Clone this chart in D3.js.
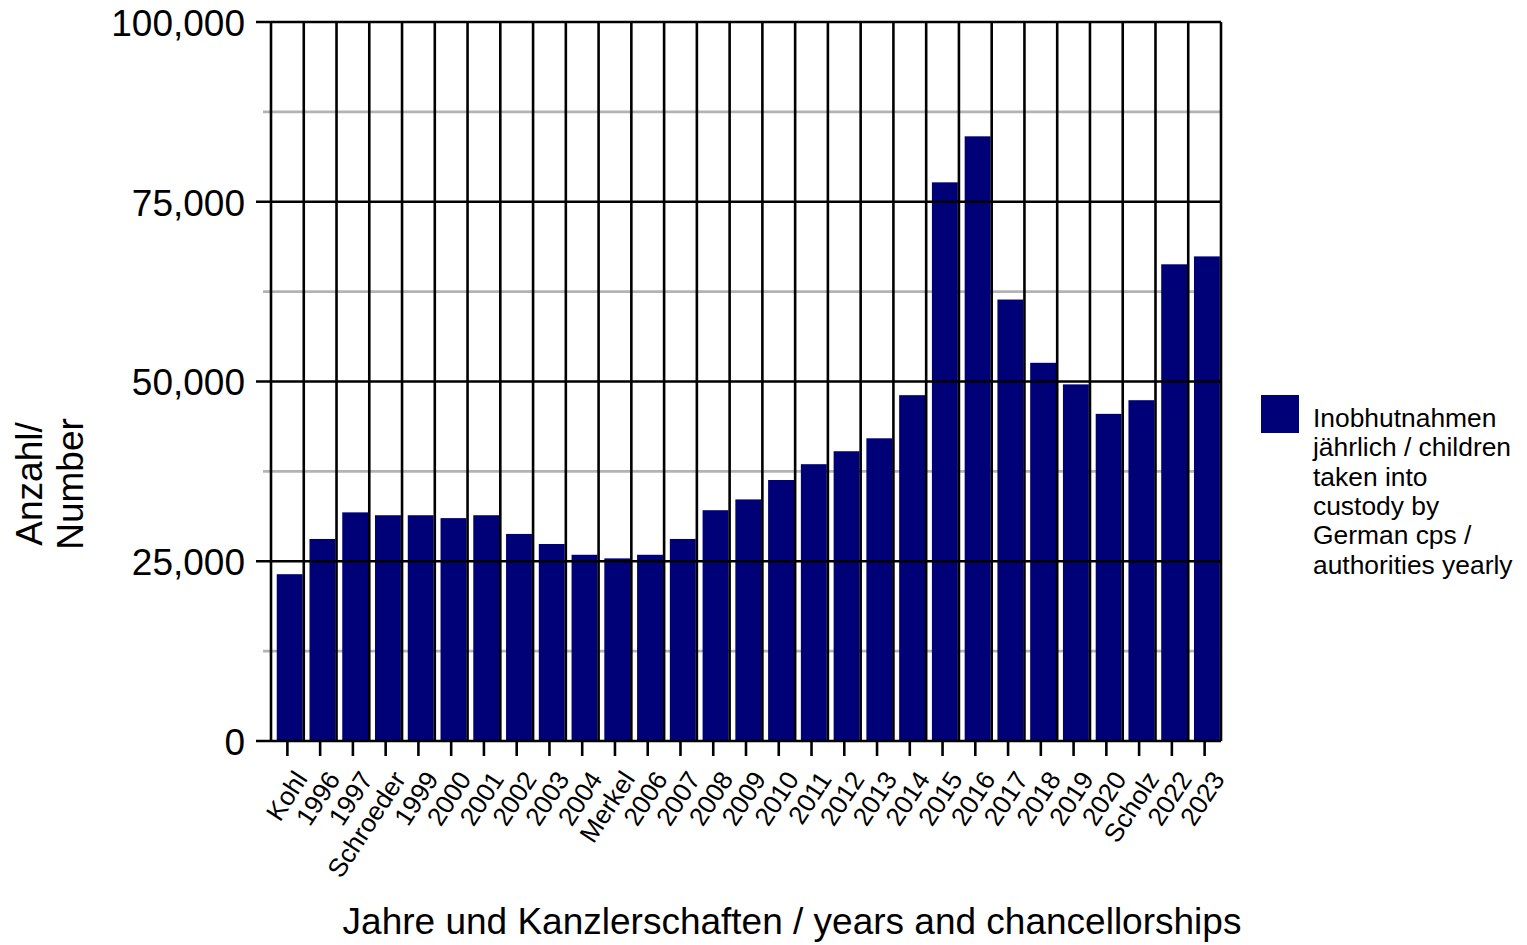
<!DOCTYPE html>
<html>
<head>
<meta charset="utf-8">
<script src="https://cdn.jsdelivr.net/npm/d3@7"></script>
<style>
  html, body { margin: 0; padding: 0; background: #fff; }
  svg { display: block; font-family: "Liberation Sans", Arial, sans-serif; }
</style>
</head>
<body>
<svg id="chart" width="1527" height="945"></svg>
<script>
const categories = ["Kohl","1996","1997","Schroeder","1999","2000","2001","2002","2003","2004",
  "Merkel","2006","2007","2008","2009","2010","2011","2012","2013","2014",
  "2015","2016","2017","2018","2019","2020","Scholz","2022","2023"];
const values = [23200, 28100, 31800, 31400, 31400, 31000, 31400, 28800, 27400, 25900,
  25400, 25900, 28100, 32100, 33600, 36300, 38500, 40300, 42100, 48100,
  77700, 84100, 61400, 52600, 49600, 45500, 47400, 66300, 67400];
const majorTicks = [0, 25000, 50000, 75000, 100000];
const minorTicks = [12500, 37500, 62500, 87500];
const seriesName = ["Inobhutnahmen", "jährlich / children", "taken into", "custody by", "German cps /", "authorities yearly"];
const xTitle = "Jahre und Kanzlerschaften / years and chancellorships";
const yTitle = ["Anzahl/", "Number"];

const svg = d3.select("#chart");
const L = 271, R = 1221, T = 22, B = 741;
const barColor = "#000077";
const lw = 2.6;

const x = d3.scaleBand().domain(categories).range([L, R]).paddingInner(0).paddingOuter(0);
const y = d3.scaleLinear().domain([0, 100000]).range([B, T]);
const bw = x.bandwidth();

// minor gray gridlines
svg.append("g").selectAll("line").data(minorTicks).join("line")
  .attr("x1", L - 8).attr("x2", R).attr("y1", d => y(d)).attr("y2", d => y(d))
  .attr("stroke", "#b3b3b3").attr("stroke-width", lw);

// bars
svg.append("g").selectAll("rect").data(values).join("rect")
  .attr("x", (d, i) => x(categories[i]) + bw * 0.175)
  .attr("width", bw * 0.79)
  .attr("y", d => y(d))
  .attr("height", d => B - y(d))
  .attr("fill", barColor);

// major black gridlines (with tick extension)
svg.append("g").selectAll("line").data(majorTicks).join("line")
  .attr("x1", L - 15).attr("x2", R).attr("y1", d => y(d)).attr("y2", d => y(d))
  .attr("stroke", "#000").attr("stroke-width", lw);

// vertical black lines at band boundaries
const bounds = categories.map(c => x(c)).concat([R]);
svg.append("g").selectAll("line").data(bounds).join("line")
  .attr("x1", d => d).attr("x2", d => d).attr("y1", T).attr("y2", B)
  .attr("stroke", "#000").attr("stroke-width", lw);

// x axis ticks and labels
const xAxis = d3.axisBottom(x).tickSize(15).tickPadding(0).tickSizeOuter(0);
const gx = svg.append("g").attr("transform", `translate(0,${B})`).call(xAxis);
gx.select(".domain").remove();
gx.selectAll(".tick line").attr("stroke", "#000").attr("stroke-width", lw);
gx.selectAll(".tick text")
  .attr("font-size", 26)
  .attr("fill", "#000")
  .attr("text-anchor", "end")
  .attr("dy", null)
  .attr("y", null)
  .attr("transform", "translate(21,38) rotate(-57)");

// y axis labels
const yAxis = d3.axisLeft(y).tickValues(majorTicks).tickFormat(d3.format(",")).tickSize(0).tickPadding(26);
const gy = svg.append("g").attr("transform", `translate(${L},0)`).call(yAxis);
gy.select(".domain").remove();
gy.selectAll(".tick text").attr("font-size", 37).attr("fill", "#000").attr("dy", "0.36em");

// y title
const yt = svg.append("text").attr("transform", "translate(42,484) rotate(-90)")
  .attr("text-anchor", "middle").attr("font-size", 37).attr("fill", "#000");
yt.append("tspan").attr("x", 0).attr("y", 0).text(yTitle[0]);
yt.append("tspan").attr("x", 0).attr("y", 41).text(yTitle[1]);

// x title
svg.append("text").attr("x", 792).attr("y", 934).attr("text-anchor", "middle")
  .attr("font-size", 37).attr("fill", "#000").text(xTitle);

// legend
svg.append("rect").attr("x", 1261).attr("y", 395).attr("width", 38).attr("height", 38).attr("fill", barColor);
svg.append("g").selectAll("text").data(seriesName).join("text")
  .attr("x", 1313).attr("y", (d, i) => 427 + i * 29.3)
  .attr("font-size", 26.4).attr("fill", "#000").text(d => d);
</script>
</body>
</html>
